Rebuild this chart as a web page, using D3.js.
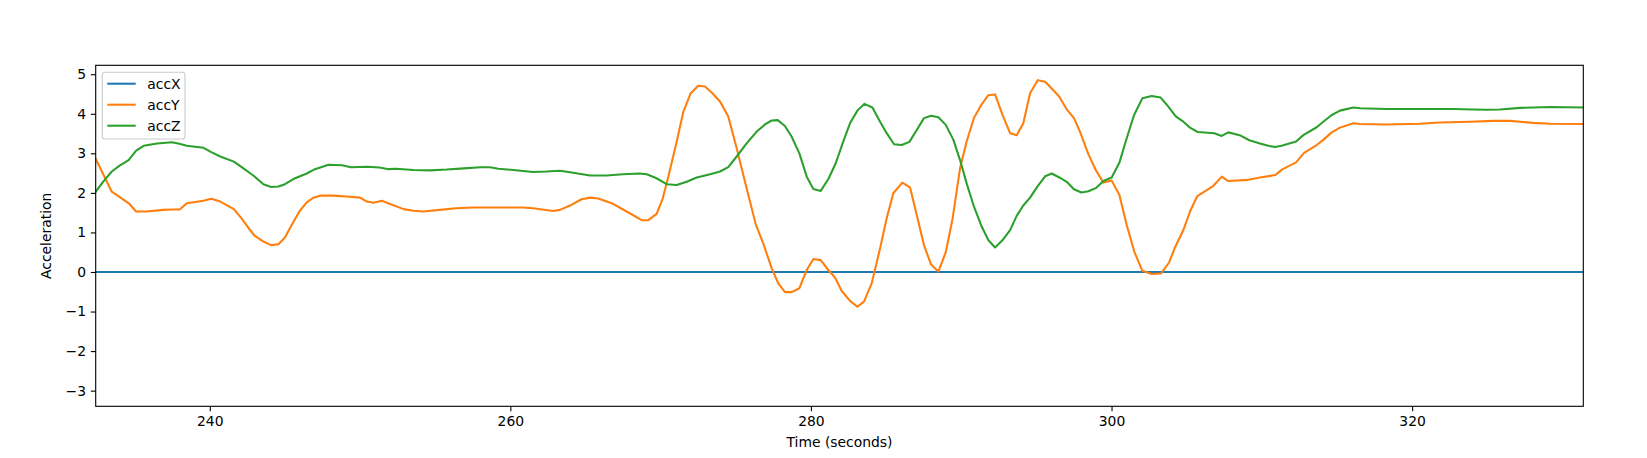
<!DOCTYPE html>
<html>
<head>
<meta charset="utf-8">
<script src="https://cdn.jsdelivr.net/npm/d3@7"></script>
<style>
  html, body { margin: 0; padding: 0; background: #fff; }
  svg { display: block; font-family: "DejaVu Sans", sans-serif; }
</style>
</head>
<body>
<svg id="chart" width="1647" height="458"></svg>
<script>
// ---- data ----
const seriesNames = ["accX", "accY", "accZ"];
const seriesColors = ["#1f77b4", "#ff7f0e", "#2ca02c"];

const timeX = [232.41, 250, 270, 290, 310, 331.39];
const accX  = [0, 0, 0, 0, 0, 0];

const timeY = [232.41,233.48,234.66,235.1,235.8,236.9,237.47,238.0,238.47,239.58,240.1,240.7,241.6,242.1,242.6,243.0,243.57,244.08,244.57,245.0,245.45,245.96,246.45,246.9,247.34,248.2,249.1,250.0,250.45,250.9,251.45,252.0,252.9,253.55,254.2,255.3,256.4,257.5,259.3,260.86,261.5,262.86,263.3,263.97,264.74,265.3,265.85,266.74,267.74,268.74,269.18,269.73,270.13,270.51,271.07,271.51,272.0,272.5,272.95,273.39,273.95,274.5,275.06,275.72,276.34,276.83,277.39,277.83,278.27,278.72,279.23,279.72,280.16,280.65,281.16,281.6,282.05,282.6,283.09,283.53,284.04,284.6,285.04,285.48,286.08,286.59,287.04,287.52,287.99,288.48,288.97,289.43,289.92,290.36,290.85,291.36,291.8,292.25,292.74,293.25,293.69,294.13,294.58,295.09,295.58,296.02,296.53,297.02,297.5,297.9,298.46,298.95,299.46,300.01,300.52,301.01,301.52,302.05,302.67,303.29,303.83,304.22,304.78,305.22,305.71,306.78,307.33,307.77,309.1,309.88,310.88,311.39,312.28,312.81,313.65,314.09,314.65,315.2,316.09,316.53,318.3,320.5,321.85,323.85,325.4,326.5,328.07,329.2,331.39];
const accY  = [2.86,2.03,1.72,1.53,1.53,1.57,1.58,1.58,1.74,1.80,1.85,1.78,1.59,1.36,1.10,0.91,0.77,0.68,0.70,0.87,1.19,1.53,1.76,1.88,1.93,1.93,1.91,1.88,1.78,1.75,1.80,1.72,1.59,1.55,1.53,1.57,1.61,1.63,1.63,1.63,1.61,1.54,1.57,1.68,1.84,1.88,1.86,1.74,1.53,1.31,1.31,1.47,1.85,2.41,3.30,4.05,4.52,4.71,4.69,4.54,4.31,3.93,3.13,2.12,1.19,0.72,0.09,-0.29,-0.51,-0.51,-0.41,0.05,0.33,0.30,0.05,-0.14,-0.48,-0.73,-0.88,-0.75,-0.29,0.60,1.36,1.99,2.26,2.14,1.44,0.68,0.19,0.01,0.50,1.36,2.62,3.30,3.90,4.24,4.47,4.49,3.98,3.51,3.46,3.76,4.52,4.85,4.81,4.64,4.43,4.11,3.89,3.55,2.98,2.58,2.26,2.31,1.95,1.19,0.51,0.03,-0.05,-0.04,0.24,0.62,1.06,1.53,1.92,2.18,2.41,2.30,2.33,2.39,2.45,2.60,2.77,3.01,3.21,3.34,3.53,3.65,3.76,3.74,3.73,3.75,3.78,3.80,3.82,3.82,3.77,3.75,3.74];

const timeZ = [232.41,232.9,233.48,234.0,234.6,235.1,235.6,236.5,237.47,237.9,238.47,239.58,240.1,240.7,241.6,242.1,242.9,243.57,244.08,244.57,245.0,245.56,246.45,247.0,247.9,248.8,249.4,250.45,251.3,251.9,252.4,253.55,254.66,255.77,256.9,258.0,258.65,259.2,260.2,261.5,262.4,263.3,263.97,265.3,266.41,267.5,268.6,269.07,269.73,270.4,271.07,271.73,272.4,273.3,273.95,274.5,275.06,275.72,276.39,276.94,277.39,277.79,278.27,278.72,279.23,279.72,280.16,280.65,281.16,281.65,282.16,282.6,283.09,283.55,284.09,284.6,285.04,285.53,286.04,286.55,287.04,287.52,287.99,288.48,288.97,289.48,289.92,290.36,290.85,291.36,291.8,292.25,292.74,293.25,293.69,294.13,294.58,295.09,295.58,296.02,296.53,297.02,297.5,298.0,298.46,298.95,299.46,300.01,300.52,301.01,301.5,302.05,302.67,303.27,303.78,304.29,304.78,305.22,305.73,306.84,307.33,307.77,308.59,309.17,309.88,310.43,310.88,311.32,312.28,312.76,313.65,314.09,314.65,315.2,316.09,316.53,318.3,320.5,322.74,324.07,324.96,325.85,327.18,328.07,329.2,331.39];
const accZ  = [2.03,2.28,2.54,2.69,2.83,3.07,3.19,3.25,3.28,3.25,3.19,3.14,3.03,2.92,2.79,2.66,2.44,2.22,2.15,2.16,2.22,2.35,2.49,2.60,2.71,2.70,2.65,2.66,2.64,2.60,2.61,2.58,2.57,2.59,2.62,2.65,2.65,2.61,2.58,2.53,2.54,2.56,2.52,2.44,2.44,2.47,2.49,2.47,2.37,2.22,2.20,2.28,2.39,2.47,2.54,2.65,2.92,3.25,3.55,3.73,3.83,3.84,3.69,3.42,3.00,2.41,2.10,2.05,2.35,2.75,3.31,3.76,4.08,4.25,4.16,3.80,3.51,3.23,3.21,3.29,3.59,3.89,3.95,3.91,3.72,3.34,2.83,2.24,1.65,1.15,0.81,0.62,0.80,1.06,1.42,1.68,1.88,2.17,2.42,2.49,2.39,2.28,2.09,2.01,2.04,2.12,2.30,2.39,2.76,3.38,3.97,4.39,4.45,4.41,4.18,3.93,3.80,3.65,3.54,3.51,3.44,3.53,3.45,3.33,3.25,3.19,3.16,3.19,3.30,3.46,3.66,3.80,3.97,4.08,4.16,4.14,4.12,4.12,4.12,4.11,4.10,4.11,4.15,4.16,4.17,4.16];

const xTicks = [240, 260, 280, 300, 320];
const yTicks = [-3, -2, -1, 0, 1, 2, 3, 4, 5];
const xDomain = [232.41, 331.39];
const yDomain = [-3.396, 5.226];
const xLabel = "Time (seconds)";
const yLabel = "Acceleration";

// ---- layout ----
const L = 95.7, R = 1583.3, T = 65.3, B = 406.3;
const FS = 13.9;

const svg = d3.select("#chart");
const x = d3.scaleLinear().domain(xDomain).range([L, R]);
const y = d3.scaleLinear().domain(yDomain).range([B, T]);

svg.append("defs").append("clipPath").attr("id", "clip")
  .append("rect").attr("x", L).attr("y", T).attr("width", R - L).attr("height", B - T);

const series = [
  { name: seriesNames[0], color: seriesColors[0], pts: timeX.map((t, i) => [t, accX[i]]) },
  { name: seriesNames[1], color: seriesColors[1], pts: timeY.map((t, i) => [t, accY[i]]) },
  { name: seriesNames[2], color: seriesColors[2], pts: timeZ.map((t, i) => [t, accZ[i]]) }
];

const line = d3.line().x(d => x(d[0])).y(d => y(d[1]));
const g = svg.append("g").attr("clip-path", "url(#clip)");
series.forEach(s => {
  g.append("path").attr("d", line(s.pts)).attr("fill", "none")
    .attr("stroke", s.color).attr("stroke-width", 2.08)
    .attr("stroke-linejoin", "round").attr("stroke-linecap", "square");
});

// axes
const fmt = d => d < 0 ? "\u2212" + Math.abs(d) : String(d);
const xAxis = d3.axisBottom(x).tickValues(xTicks).tickFormat(fmt).tickSize(4.86).tickPadding(4.86);
const yAxis = d3.axisLeft(y).tickValues(yTicks).tickFormat(fmt).tickSize(4.86).tickPadding(4.86);

const gx = svg.append("g").attr("transform", `translate(0,${B})`).call(xAxis);
const gy = svg.append("g").attr("transform", `translate(${L},0)`).call(yAxis);
[gx, gy].forEach(a => {
  a.select(".domain").remove();
  a.selectAll(".tick line").attr("stroke", "#000").attr("stroke-width", 1.11);
  a.selectAll(".tick text").attr("fill", "#000").attr("font-size", FS)
    .attr("font-family", "DejaVu Sans, sans-serif");
});

// frame
svg.append("rect").attr("x", L).attr("y", T).attr("width", R - L).attr("height", B - T)
  .attr("fill", "none").attr("stroke", "#000").attr("stroke-width", 1.11);

// axis labels
svg.append("text").attr("x", (L + R) / 2).attr("y", 447).attr("text-anchor", "middle")
  .attr("font-size", FS).attr("fill", "#000").text(xLabel);
svg.append("text").attr("transform", `translate(51,${(T + B) / 2}) rotate(-90)`)
  .attr("text-anchor", "middle").attr("font-size", FS).attr("fill", "#000").text(yLabel);

// legend
const lg = svg.append("g");
lg.append("rect").attr("x", 102.3).attr("y", 72.3).attr("width", 82.7).attr("height", 66.7)
  .attr("rx", 2.8).attr("fill", "#fff").attr("fill-opacity", 0.8)
  .attr("stroke", "#cccccc").attr("stroke-width", 1.11);
series.forEach((s, i) => {
  const yy = 83.7 + i * 21;
  lg.append("line").attr("x1", 107.3).attr("x2", 135.7).attr("y1", yy).attr("y2", yy)
    .attr("stroke", s.color).attr("stroke-width", 2.08);
  lg.append("text").attr("x", 147.3).attr("y", yy + 4.9).attr("font-size", FS)
    .attr("fill", "#000").text(s.name);
});
</script>
</body>
</html>
